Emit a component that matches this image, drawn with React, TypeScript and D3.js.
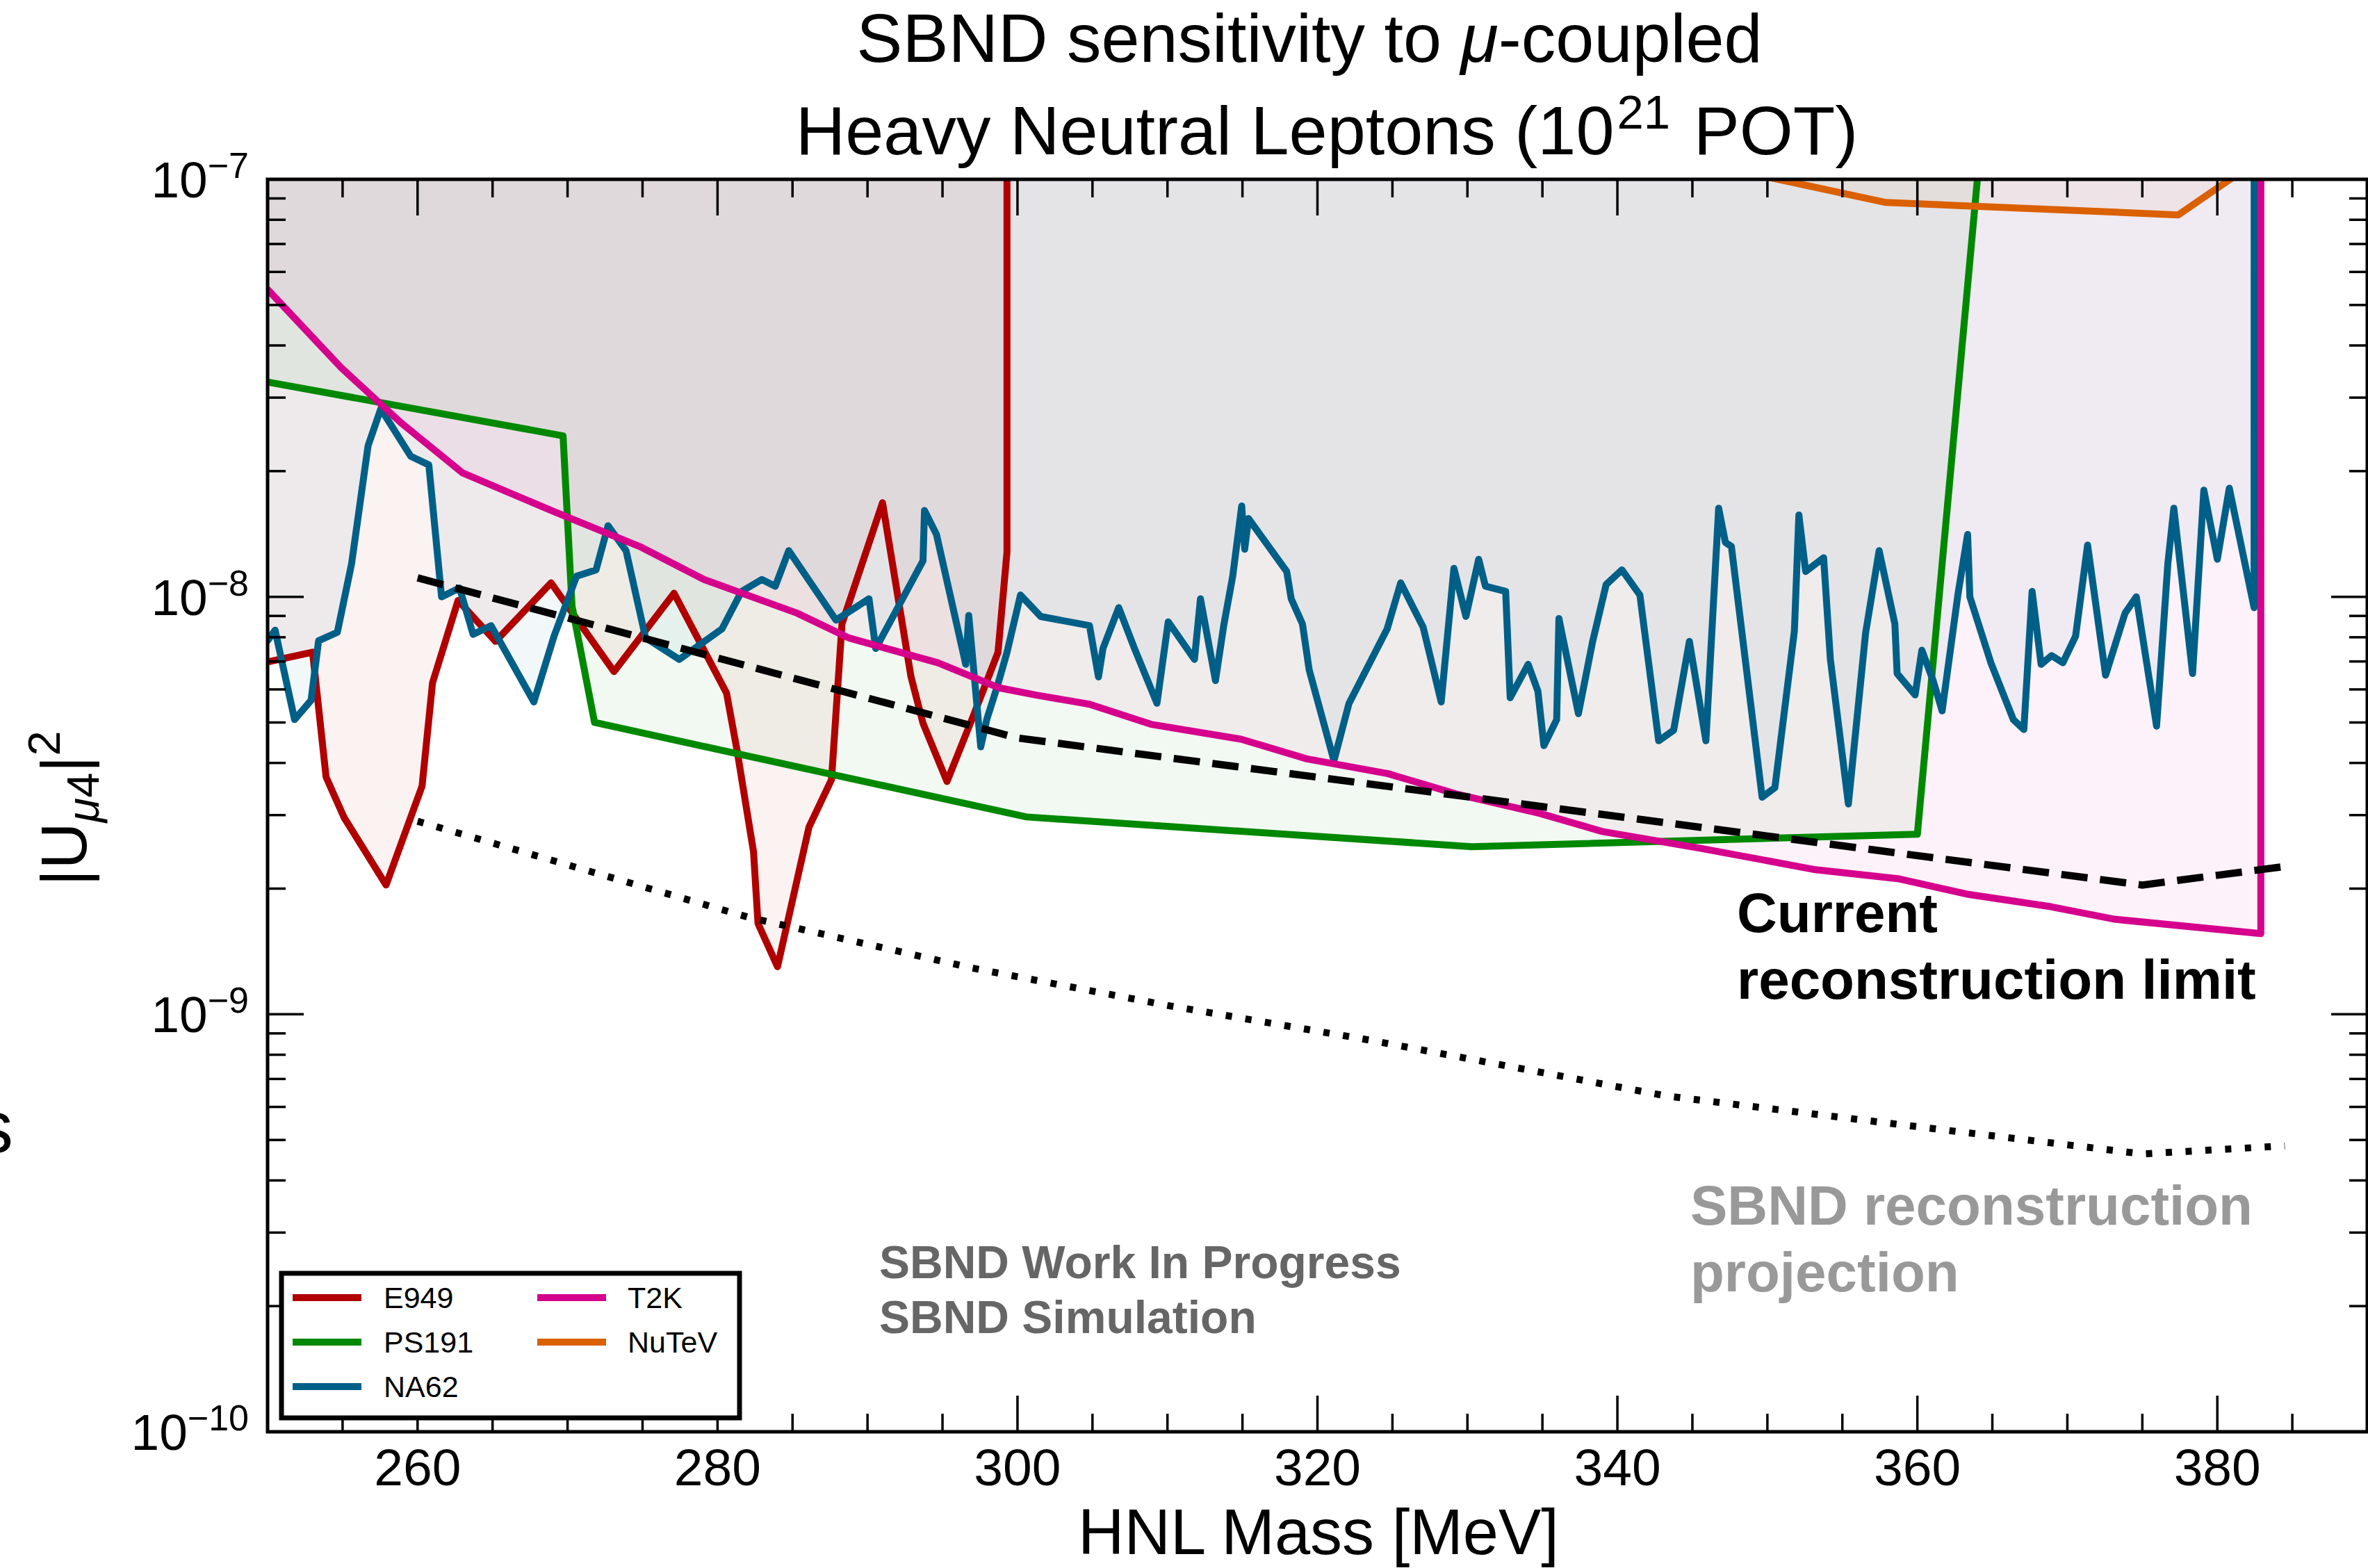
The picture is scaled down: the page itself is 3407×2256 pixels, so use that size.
import React from "react";
import * as d3 from "d3";

const W = 3407;
const H = 2256;
const FONT = "'Liberation Sans', Arial, Helvetica, sans-serif";

// ---------- data ----------
const e949Mass = [250, 253.0, 253.9, 255.1, 257.9, 260.3, 261.0, 262.7, 265.2, 268.9, 273.1, 277.1, 280.6, 281.3, 282.4, 282.7, 284.0, 286.1, 287.6, 288.3, 291.0, 292.9, 293.7, 295.3, 297.05, 298.7, 299.3, 299.3];
const e949Val = [6.98e-9, 7.37e-9, 3.7e-9, 2.96e-9, 2.04e-9, 3.52e-9, 6.23e-9, 9.8e-9, 7.82e-9, 1.08e-8, 6.62e-9, 1.02e-8, 5.88e-9, 4.29e-9, 2.45e-9, 1.65e-9, 1.3e-9, 2.81e-9, 3.65e-9, 8.62e-9, 1.68e-8, 6.43e-9, 4.98e-9, 3.61e-9, 5.18e-9, 7.36e-9, 1.28e-8, 1e-6];

const ps191Mass = [250, 269.7, 270.3, 271.8, 300.6, 330.3, 360.0, 364.5];
const ps191Val = [3.27e-8, 2.43e-8, 9.5e-9, 5.0e-9, 2.97e-9, 2.52e-9, 2.7e-9, 1.57e-7];

const na62Mass = [
  250.0, 250.5, 251.8, 252.9, 253.4, 254.65, 255.6, 256.7, 257.55, 259.55,
  260.75, 261.6, 262.8, 263.7, 264.9, 267.75, 269.1, 270.6, 271.9, 272.7,
  273.9, 275.2, 277.45, 280.3, 281.6, 282.95, 283.85, 284.75, 287.9, 290.1,
  290.55, 293.7, 293.8, 294.6, 296.55, 296.75, 297.55, 297.95, 298.7, 299.3,
  300.2, 301.55, 304.8, 305.4, 305.7, 306.75, 307.8, 309.3, 310.05, 311.8,
  312.2, 313.2, 313.75, 314.35, 314.95, 315.15, 315.4, 317.95, 318.25, 319.0,
  319.45, 321.1, 322.1, 324.65, 325.55, 327.05, 328.25, 329.1, 329.9, 330.75,
  331.2, 332.55, 332.85, 334.05, 334.7, 335.1, 335.95, 336.1, 337.4, 338.35,
  339.25, 340.3, 341.5, 342.75, 343.75, 344.8, 345.9, 346.75, 347.2, 347.6,
  349.65, 350.5, 351.8, 352.1, 352.55, 353.75, 354.2, 355.4, 356.55, 357.45,
  358.5, 358.65, 359.85, 360.3, 361.05, 361.65, 362.7, 363.35, 363.5, 364.9,
  366.4, 367.1, 367.65, 368.25, 368.95, 369.7, 370.55, 371.35, 372.55, 373.85,
  374.6, 375.95, 376.7, 377.1, 378.35, 379.1, 380.0, 380.8, 382.45, 382.46,
];
const na62Val = [
  7.85e-9, 8.32e-9, 5.08e-9, 5.65e-9, 7.85e-9, 8.22e-9, 1.2e-8, 2.3e-8, 2.82e-8, 2.17e-8,
  2.07e-8, 1.0e-8, 1.05e-8, 8.13e-9, 8.53e-9, 5.6e-9, 8.05e-9, 1.12e-8, 1.16e-8, 1.48e-8,
  1.29e-8, 7.98e-9, 7.08e-9, 8.38e-9, 1.03e-8, 1.1e-8, 1.06e-8, 1.29e-8, 8.79e-9, 9.89e-9,
  7.52e-9, 1.22e-8, 1.61e-8, 1.41e-8, 6.89e-9, 9.02e-9, 4.37e-9, 5.08e-9, 6.18e-9, 7.36e-9,
  1.01e-8, 8.97e-9, 8.53e-9, 6.43e-9, 7.52e-9, 9.42e-9, 7.52e-9, 5.56e-9, 8.71e-9, 7.08e-9,
  9.89e-9, 6.3e-9, 8.53e-9, 1.12e-8, 1.65e-8, 1.3e-8, 1.54e-8, 1.15e-8, 9.89e-9, 8.61e-9,
  6.68e-9, 4.05e-9, 5.55e-9, 8.38e-9, 1.08e-8, 8.45e-9, 5.6e-9, 1.17e-8, 8.97e-9, 1.23e-8,
  1.06e-8, 1.03e-8, 5.73e-9, 6.89e-9, 5.94e-9, 4.4e-9, 5.08e-9, 8.87e-9, 5.25e-9, 7.82e-9,
  1.07e-8, 1.16e-8, 1.01e-8, 4.52e-9, 4.79e-9, 7.82e-9, 4.52e-9, 1.63e-8, 1.35e-8, 1.32e-8,
  3.31e-9, 3.49e-9, 8.28e-9, 1.57e-8, 1.15e-8, 1.24e-8, 7.08e-9, 3.19e-9, 8.2e-9, 1.29e-8,
  8.61e-9, 6.55e-9, 5.82e-9, 7.45e-9, 6.3e-9, 5.33e-9, 1.01e-8, 1.41e-8, 1.0e-8, 6.95e-9,
  5.08e-9, 4.81e-9, 1.03e-8, 6.89e-9, 7.23e-9, 6.95e-9, 8.05e-9, 1.33e-8, 6.49e-9, 9.14e-9,
  1.0e-8, 4.9e-9, 1.2e-8, 1.63e-8, 6.55e-9, 1.8e-8, 1.23e-8, 1.82e-8, 9.42e-9, 1e-6,
];

const t2kMass = [250, 254.9, 258.9, 263.0, 269.1, 274.9, 279.1, 285.3, 288.8, 294.7, 298.8, 301.2, 304.8, 308.9, 314.9, 319.3, 324.7, 329.4, 334.8, 339.0, 345.5, 353.2, 358.8, 363.3, 368.9, 373.1, 382.9, 382.9];
const t2kVal = [5.45e-8, 3.54e-8, 2.61e-8, 1.98e-8, 1.6e-8, 1.315e-8, 1.1e-8, 9.14e-9, 7.96e-9, 6.95e-9, 6.05e-9, 5.82e-9, 5.53e-9, 4.95e-9, 4.56e-9, 4.09e-9, 3.77e-9, 3.36e-9, 3.03e-9, 2.74e-9, 2.5e-9, 2.22e-9, 2.11e-9, 1.94e-9, 1.81e-9, 1.69e-9, 1.56e-9, 1e-6];

const nutevMass = [340, 357.9, 377.4, 383.0];
const nutevVal = [1.21e-7, 8.8e-8, 8.22e-8, 1.13e-7];

const recoLimitMass = [260, 300, 375, 384.5];
const recoLimitVal = [1.11e-8, 4.59e-9, 2.04e-9, 2.26e-9];

const projMass = [260, 270, 282, 297, 310, 323.5, 343.3, 360, 375, 384.5];
const projVal = [2.9e-9, 2.28e-9, 1.71e-9, 1.29e-9, 1.05e-9, 8.67e-10, 6.37e-10, 5.38e-10, 4.63e-10, 4.84e-10];

const seriesNames = ["E949", "PS191", "NA62", "T2K", "NuTeV"];
const seriesColors = ["#b00000", "#008800", "#005f87", "#d5008c", "#da6000"];

const xMajorTicks = [260, 280, 300, 320, 340, 360, 380];
const yMajorExps = [-10, -9, -8, -7];

export default function App() {
  const left = 385, right = 3406, top = 258, bottom = 2060;
  const x = d3.scaleLinear().domain([250, 390]).range([left, right]);
  const y = d3.scaleLog().domain([1e-10, 1e-7]).range([bottom, top]);

  const masses = [e949Mass, ps191Mass, na62Mass, t2kMass, nutevMass];
  const vals = [e949Val, ps191Val, na62Val, t2kVal, nutevVal];

  const linePath = (m: number[], v: number[]) =>
    d3.line<number>().x((i) => x(m[i])).y((i) => y(v[i]))(d3.range(m.length)) || "";
  const areaPath = (m: number[], v: number[]) =>
    d3.area<number>().x((i) => x(m[i])).y0(y(1e-5)).y1((i) => y(v[i]))(d3.range(m.length)) || "";

  const xMinor = d3.range(255, 390, 5).filter((t) => !xMajorTicks.includes(t));
  const yMinor: number[] = [];
  for (let e = -10; e < -7; e++) for (let k = 2; k <= 9; k++) yMinor.push(k * Math.pow(10, e));

  const MAJ = 52, MIN = 26;
  const tickW = 3.5;

  return (
    <svg width={W} height={H} viewBox={`0 0 ${W} ${H}`} style={{ position: "absolute", left: 0, top: 0, background: "#fff" }} fontFamily={FONT}>
      <rect x={0} y={0} width={W} height={H} fill="#fff" />
      <defs>
        <clipPath id="plotclip">
          <rect x={left} y={top} width={right - left} height={bottom - top} />
        </clipPath>
      </defs>

      {/* title */}
      <text x={1884} y={89} textAnchor="middle" fontSize={99} fill="#000">
        SBND sensitivity to <tspan fontStyle="italic">μ</tspan>-coupled
      </text>
      <text x={1909} y={222} textAnchor="middle" fontSize={99} fill="#000">
        Heavy Neutral Leptons (10<tspan fontSize={69} dx={4} dy={-37}>21</tspan>
        <tspan dx={6} dy={37}> POT)</tspan>
      </text>

      {/* fills and curves */}
      <g clipPath="url(#plotclip)">
        {masses.map((m, i) => (
          <path key={"a" + i} d={areaPath(m, vals[i])} fill={seriesColors[i]} fillOpacity={0.05} stroke="none" />
        ))}
        {masses.map((m, i) => (
          <path key={"l" + i} d={linePath(m, vals[i])} fill="none" stroke={seriesColors[i]} strokeWidth={10} strokeLinejoin="round" strokeLinecap="round" />
        ))}
        <path d={linePath(recoLimitMass, recoLimitVal)} fill="none" stroke="#000" strokeWidth={10.5} strokeDasharray="38 18" />
        <path d={linePath(projMass, projVal)} fill="none" stroke="#000" strokeWidth={10} strokeDasharray="9 19.5" />
      </g>

      {/* ticks */}
      <g stroke="#000" strokeWidth={tickW}>
        {xMajorTicks.map((t) => (
          <g key={"xm" + t}>
            <line x1={x(t)} x2={x(t)} y1={bottom} y2={bottom - MAJ} />
            <line x1={x(t)} x2={x(t)} y1={top} y2={top + MAJ} />
          </g>
        ))}
        {xMinor.map((t) => (
          <g key={"xn" + t}>
            <line x1={x(t)} x2={x(t)} y1={bottom} y2={bottom - MIN} />
            <line x1={x(t)} x2={x(t)} y1={top} y2={top + MIN} />
          </g>
        ))}
        {yMajorExps.map((e) => (
          <g key={"ym" + e}>
            <line x1={left} x2={left + MAJ} y1={y(Math.pow(10, e))} y2={y(Math.pow(10, e))} />
            <line x1={right} x2={right - MAJ} y1={y(Math.pow(10, e))} y2={y(Math.pow(10, e))} />
          </g>
        ))}
        {yMinor.map((v, i) => (
          <g key={"yn" + i}>
            <line x1={left} x2={left + MIN} y1={y(v)} y2={y(v)} />
            <line x1={right} x2={right - MIN} y1={y(v)} y2={y(v)} />
          </g>
        ))}
      </g>

      {/* frame */}
      <rect x={left} y={top} width={right - left} height={bottom - top} fill="none" stroke="#000" strokeWidth={5} />

      {/* tick labels */}
      {xMajorTicks.map((t) => (
        <text key={"xl" + t} x={x(t)} y={2137} textAnchor="middle" fontSize={75} fill="#000">
          {t}
        </text>
      ))}
      {yMajorExps.map((e) => (
        <text key={"yl" + e} x={358} y={y(Math.pow(10, e)) + 26} textAnchor="end" fontSize={73} fill="#000">
          10<tspan fontSize={52} dy={-28}>{"\u2212" + Math.abs(e)}</tspan>
        </text>
      ))}

      {/* axis labels */}
      <text x={1897} y={2236} textAnchor="middle" fontSize={92} fill="#000">
        HNL Mass [MeV]
      </text>
      <text transform="translate(124,1163) rotate(-90)" textAnchor="middle" fontSize={93} fill="#000">
        |U<tspan fontSize={65} dy={18} fontStyle="italic">μ</tspan>
        <tspan fontSize={65}>4</tspan>
        <tspan dy={-18}>|</tspan>
        <tspan fontSize={65} dy={-38}>2</tspan>
      </text>
      <text x={19} y={1658} textAnchor="end" fontSize={105} fill="#000">s</text>

      {/* annotations */}
      <g fontWeight="bold" fontSize={66} fill="#666">
        <text x={1265} y={1839}>SBND Work In Progress</text>
        <text x={1265} y={1918}>SBND Simulation</text>
      </g>
      <g fontWeight="bold" fontSize={80} fill="#000">
        <text x={2499} y={1341}>Current</text>
        <text x={2499} y={1437}>reconstruction limit</text>
      </g>
      <g fontWeight="bold" fontSize={80} fill="#999">
        <text x={2432} y={1762}>SBND reconstruction</text>
        <text x={2432} y={1858}>projection</text>
      </g>

      {/* legend */}
      <g>
        <rect x={405} y={1832} width={659} height={208} fill="#fff" stroke="#000" strokeWidth={7} />
        {seriesNames.map((n, i) => {
          const col = i < 3 ? 0 : 1;
          const row = i < 3 ? i : i - 3;
          const hx = col === 0 ? 421 : 773;
          const tx = col === 0 ? 552 : 903;
          const yy = 1867 + row * 64;
          return (
            <g key={"lg" + n}>
              <line x1={hx} x2={hx + 99} y1={yy} y2={yy} stroke={seriesColors[i]} strokeWidth={10} />
              <text x={tx} y={yy + 15} fontSize={43} fill="#000">{n}</text>
            </g>
          );
        })}
      </g>
    </svg>
  );
}
